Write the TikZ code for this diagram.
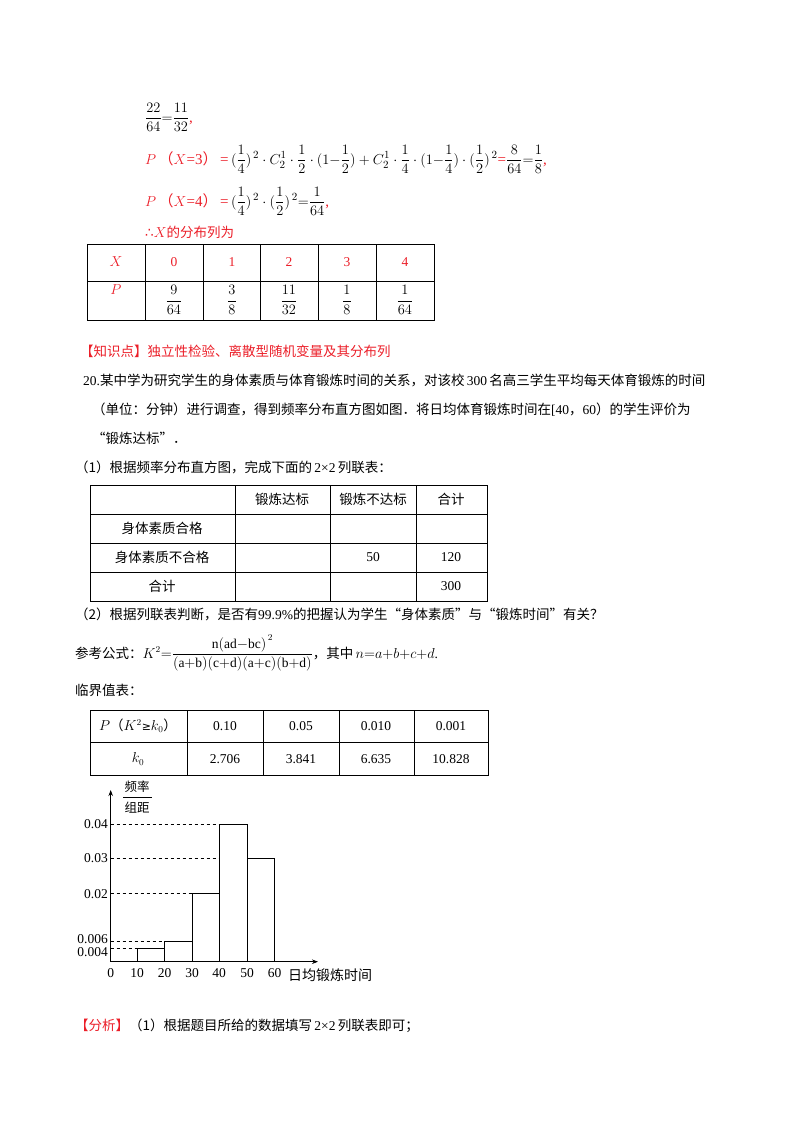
\documentclass[tikz,border=0pt]{standalone}
\usepackage{fontspec}
\usepackage{amsmath,amssymb}
\usetikzlibrary{arrows.meta}
\setmainfont{Liberation Serif}
\newfontfamily\cjk{Noto Sans CJK SC}
\newfontfamily\djvfont{DejaVu Sans}
\definecolor{rd}{RGB}{235,30,40}
\begin{document}
\begin{tikzpicture}[x=1pt,y=-1pt,
  txt/.style={anchor=base west,inner sep=0pt,font=\fontsize{13.5}{16}\selectfont},
  fx/.style={anchor=base west,inner sep=0pt,font=\fontsize{15}{18}\selectfont},
  cell/.style={anchor=center,inner sep=0pt,font=\fontsize{13.5}{16}\selectfont},
  grid/.style={line width=0.9pt},
  dsh/.style={dashed,line width=0.7pt},
  bar/.style={line width=0.8pt}]
\useasboundingbox (0,0) rectangle (800,1132);
% top formulas
\node[fx] (f1) at (145,122) {$\dfrac{22}{64}{=}\dfrac{11}{32}$\textcolor{rd}{,}};
\node[fx] (f2) at (145,164) {\textcolor{rd}{$P$\,{\cjk （}$X$=3{\cjk ）}\,=}\,$(\dfrac14)^{\,2}\cdot C_2^1\cdot\dfrac12\cdot(1{-}\dfrac12)+C_2^1\cdot\dfrac14\cdot(1{-}\dfrac14)\cdot(\dfrac12)^{\,2}$\textcolor{rd}{=}$\dfrac{8}{64}{=}\dfrac18$\textcolor{rd}{,}};
\node[fx] (f3) at (145,206) {\textcolor{rd}{$P$\,{\cjk （}$X$=4{\cjk ）}\,=}\,$(\dfrac14)^{\,2}\cdot(\dfrac12)^{\,2}{=}\dfrac{1}{64}$\textcolor{rd}{,}};
\node[txt,text=rd] (f4) at (145,237) {{\djvfont ∴}$X${\cjk 的分布列为}};
% table 1
\draw[grid] (87,244) rectangle (434,320);
\draw[grid] (87,281) -- (434,281);
\foreach \x in {145,203,260,318,376} \draw[grid] (\x,244) -- (\x,320);
\node[cell,text=rd] (x0) at (116,262) {$X$};
\node[cell,text=rd] at (174,262) {0};
\node[cell,text=rd] at (232,262) {1};
\node[cell,text=rd] at (289,262) {2};
\node[cell,text=rd] at (347,262) {3};
\node[cell,text=rd] at (405,262) {4};
\node[cell,text=rd] (p0) at (116,290) {$P$};
\node[cell] at (174,300) {$\dfrac{9}{64}$};
\node[cell] at (232,300) {$\dfrac{3}{8}$};
\node[cell] at (289,300) {$\dfrac{11}{32}$};
\node[cell] at (347,300) {$\dfrac{1}{8}$};
\node[cell] at (405,300) {$\dfrac{1}{64}$};
% text
\node[txt,text=rd] (k) at (80,356) {\cjk 【知识点】独立性检验、离散型随机变量及其分布列};
\node[txt] (q1) at (83,385) {20.{\cjk 某中学为研究学生的身体素质与体育锻炼时间的关系，对该校}\,300\,{\cjk 名高三学生平均每天体育锻炼的时间}};
\node[txt] (q2) at (92,414) {{\cjk （单位：分钟）进行调查，得到频率分布直方图如图．将日均体育锻炼时间在}[40{\cjk ，}60{\cjk ）的学生评价为}};
\node[txt] (q3) at (92,443) {\cjk “锻炼达标”．};
\node[txt] (q4) at (75,472) {{\cjk （1）根据频率分布直方图，完成下面的}\,2×2\,{\cjk 列联表：}};
% table 2
\draw[grid] (90,485) rectangle (487,601);
\foreach \y in {514,543,572} \draw[grid] (90,\y) -- (487,\y);
\foreach \x in {235,330,416} \draw[grid] (\x,485) -- (\x,601);
\node[cell] at (282,499) {\cjk 锻炼达标};
\node[cell] at (373,499) {\cjk 锻炼不达标};
\node[cell] at (451,499) {\cjk 合计};
\node[cell] at (162,528) {\cjk 身体素质合格};
\node[cell] at (162,557) {\cjk 身体素质不合格};
\node[cell] at (373,557) {50};
\node[cell] at (451,557) {120};
\node[cell] at (162,586) {\cjk 合计};
\node[cell] at (451,586) {300};
\node[txt] (q5) at (75,619) {{\cjk （2）根据列联表判断，是否有}99.9\%{\cjk 的把握认为学生“身体素质”与“锻炼时间”有关？}};
\node[txt] (q6) at (75,658) {{\cjk 参考公式：}$K^2{=}\dfrac{\mathrm{n(ad{-}bc)}^{\,2}}{\mathrm{(a{+}b)(c{+}d)(a{+}c)(b{+}d)}}${\cjk ，其中}\,$n{=}a{+}b{+}c{+}d$.};
\node[txt] (q7) at (75,695) {\cjk 临界值表：};
% table 3
\draw[grid] (90,710) rectangle (488,775);
\draw[grid] (90,742) -- (488,742);
\foreach \x in {187,263,339,414} \draw[grid] (\x,710) -- (\x,775);
\node[cell] at (138,726) {$P${\cjk （}$K^2${\djvfont\fontsize{11}{12}\selectfont ≥}$k_0${\cjk ）}};
\node[cell] at (225,726) {0.10};
\node[cell] at (301,726) {0.05};
\node[cell] at (376,726) {0.010};
\node[cell] at (451,726) {0.001};
\node[cell] at (138,759) {$k_0$};
\node[cell] at (225,759) {2.706};
\node[cell] at (301,759) {3.841};
\node[cell] at (376,759) {6.635};
\node[cell] at (451,759) {10.828};
% histogram
\coordinate (o) at (110.7,961.7);
\coordinate (ytop) at (110.7,790);
\coordinate (xend) at (318,961.7);
\draw[line width=0.9pt,-{Stealth[length=6pt]}] (o) -- (ytop);
\draw[line width=0.9pt,-{Stealth[length=6pt]}] (o) -- (xend);
\node[cell,font=\cjk\fontsize{12.5}{14}\selectfont] (lab) at (137,787) {频率};
\draw[line width=0.7pt] (123,797) -- (152,797);
\node[cell,font=\cjk\fontsize{12.5}{14}\selectfont] at (137,808) {组距};
\draw[dsh] (110.7,824) -- (219,824);
\draw[dsh] (110.7,858) -- (219,858);
\draw[dsh] (110.7,893.7) -- (192,893.7);
\draw[dsh] (110.7,941) -- (164.7,941);
\draw[dsh] (110.7,948) -- (137,948);
\node[cell,anchor=east] at (108,824) {0.04};
\node[cell,anchor=east] at (108,858) {0.03};
\node[cell,anchor=east] at (108,893.7) {0.02};
\node[cell,anchor=east] at (108,939) {0.006};
\node[cell,anchor=east] at (108,952) {0.004};
\draw[bar] (137,961.7) -- (137,948) -- (164.7,948) -- (164.7,961.7);
\draw[bar] (164.7,948) -- (164.7,941) -- (192,941) -- (192,961.7);
\draw[bar] (192,941) -- (192,893.7) -- (219,893.7) -- (219,961.7);
\draw[bar] (219,893.7) -- (219,824) -- (247,824) -- (247,961.7);
\draw[bar] (247,858) -- (274.7,858) -- (274.7,961.7);
\foreach \v/\x in {0/110.7,10/137,20/164.7,30/192,40/219,50/247,60/274.7}
  \node[cell] at (\x,973) {\v};
\node[cell,anchor=west,font=\cjk\fontsize{14}{16}\selectfont] at (288,975) {日均锻炼时间};
\node[txt] (an) at (75,1030) {\textcolor{rd}{\cjk 【分析】}{\cjk （1）根据题目所给的数据填写}\,2×2\,{\cjk 列联表即可；}};
\end{tikzpicture}
\end{document}
